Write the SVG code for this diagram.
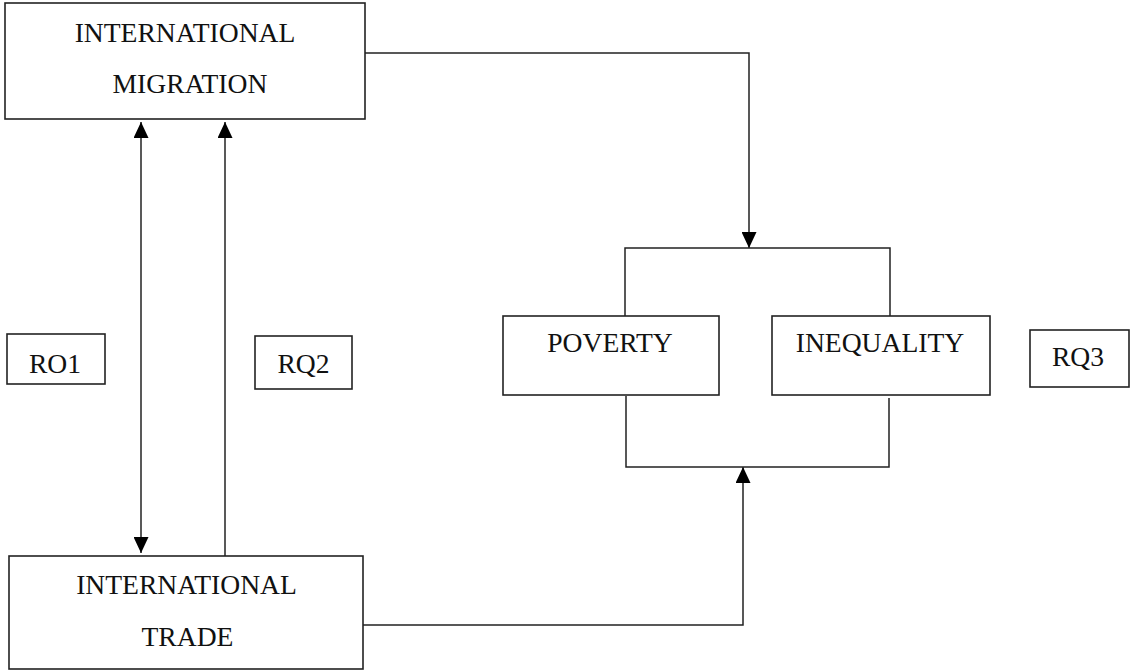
<svg xmlns="http://www.w3.org/2000/svg" width="1131" height="671" viewBox="0 0 1131 671">
<style>
.box{fill:#fff;stroke:#222;stroke-width:1.6}
.lbl{font-family:"Liberation Serif","Times New Roman",serif;font-size:27.6px;fill:#111;text-anchor:middle}
.ln{fill:none;stroke:#222;stroke-width:1.5}
</style>
<defs>
<marker id="ah" markerUnits="userSpaceOnUse" markerWidth="16" markerHeight="15" refX="16" refY="7.5" viewBox="0 0 16 15" orient="auto-start-reverse">
<path d="M0,0 L16,7.5 L0,15 z" fill="#000"/>
</marker>
</defs>
<rect width="1131" height="671" fill="#fff"/>
<g id="connectors">
<line class="ln" x1="141" y1="122" x2="141" y2="553" marker-start="url(#ah)" marker-end="url(#ah)"/>
<line class="ln" x1="225" y1="556" x2="225" y2="122" marker-end="url(#ah)"/>
<path class="ln" d="M365,53 H749 V248" marker-end="url(#ah)"/>
<path class="ln" d="M363,625 H743 V467" marker-end="url(#ah)"/>
<path class="ln" d="M625,316 V248 H890 V316"/>
<path class="ln" d="M626,396 V467 H889 V398"/>
</g>
<g id="migration">
<rect class="box" x="5" y="3" width="360" height="116"/>
<text class="lbl" x="185" y="42">INTERNATIONAL</text>
<text class="lbl" x="190" y="93">MIGRATION</text>
</g>
<g id="trade">
<rect class="box" x="9" y="556" width="354" height="113"/>
<text class="lbl" x="186.5" y="594">INTERNATIONAL</text>
<text class="lbl" x="187.5" y="646">TRADE</text>
</g>
<g id="poverty">
<rect class="box" x="503" y="316" width="216" height="79"/>
<text class="lbl" x="610" y="352">POVERTY</text>
</g>
<g id="inequality">
<rect class="box" x="772" y="316" width="218" height="79"/>
<text class="lbl" x="880" y="352">INEQUALITY</text>
</g>
<g id="rq1">
<rect class="box" x="7" y="334" width="98" height="50"/>
<text class="lbl" x="55" y="373">RO1</text>
</g>
<g id="rq2">
<rect class="box" x="255" y="336" width="97" height="53"/>
<text class="lbl" x="303.5" y="373">RQ2</text>
</g>
<g id="rq3">
<rect class="box" x="1030" y="330" width="99" height="57"/>
<text class="lbl" x="1078" y="366">RQ3</text>
</g>
</svg>
